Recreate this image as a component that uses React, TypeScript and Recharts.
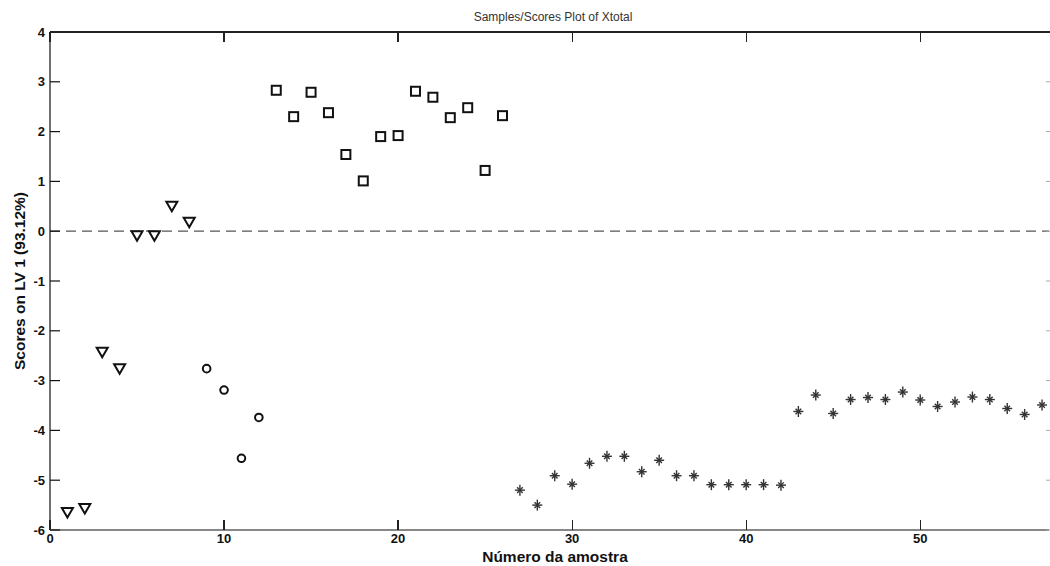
import { ScatterChart, Scatter, XAxis, YAxis, ReferenceLine } from "recharts";

// sample numbers start at 1; each class continues the numbering
const sampleTicks = [0, 10, 20, 30, 40, 50];
const scoreTicks = [-6, -5, -4, -3, -2, -1, 0, 1, 2, 3, 4];

const triangleScores = [-5.65, -5.57, -2.43, -2.76, -0.09, -0.09, 0.5, 0.18];
const circleScores = [-2.76, -3.19, -4.56, -3.74];
const squareScores = [2.83, 2.3, 2.79, 2.38, 1.54, 1.01, 1.9, 1.92, 2.81, 2.69, 2.28, 2.48, 1.22, 2.32];
const starScores = [
  -5.2, -5.5, -4.91, -5.08, -4.66, -4.52, -4.52, -4.83, -4.6, -4.91, -4.91, -5.09, -5.09, -5.09, -5.09, -5.1,
  -3.62, -3.29, -3.66, -3.38, -3.34, -3.38, -3.23, -3.39, -3.52, -3.43, -3.33, -3.38, -3.56, -3.68, -3.49,
];

const toPoints = (scores: number[], first: number) =>
  scores.map((score, i) => ({ sample: first + i, score }));

const triangles = toPoints(triangleScores, 1);
const circles = toPoints(circleScores, 1 + triangleScores.length);
const squares = toPoints(squareScores, 1 + triangleScores.length + circleScores.length);
const stars = toPoints(
  starScores,
  1 + triangleScores.length + circleScores.length + squareScores.length
);

const X_MAX = 57.4;
const Y_MIN = -6;
const Y_MAX = 4;

// frame layout (chart is 1050 x 566)
const W = 1050;
const H = 566;
const LEFT = 50;
const TOP = 32;
const BOTTOM_AXIS = 36;
const RIGHT_AXIS = 1;
const PLOT_W = W - LEFT - RIGHT_AXIS;
const PLOT_BOTTOM = H - BOTTOM_AXIS;
const frameX = (t: number) => LEFT + (t / X_MAX) * PLOT_W;

const FONT = "'Liberation Sans', Arial, sans-serif";
const INK = "#111";

function Triangle(props: any) {
  const { cx, cy } = props;
  return (
    <polygon
      points={`${cx - 5.5},${cy - 4.5} ${cx + 5.5},${cy - 4.5} ${cx},${cy + 5}`}
      fill="none"
      stroke={INK}
      strokeWidth={2}
    />
  );
}

function Circle(props: any) {
  const { cx, cy } = props;
  return <circle cx={cx} cy={cy} r={3.8} fill="none" stroke={INK} strokeWidth={2} />;
}

function Square(props: any) {
  const { cx, cy } = props;
  return <rect x={cx - 4.5} y={cy - 4.5} width={9} height={9} fill="none" stroke={INK} strokeWidth={2} />;
}

function Star(props: any) {
  const { cx, cy } = props;
  return (
    <g stroke="#333" strokeWidth={1.4}>
      <line x1={cx} y1={cy - 5.5} x2={cx} y2={cy + 5.5} />
      <line x1={cx - 5} y1={cy} x2={cx + 5} y2={cy} />
      <line x1={cx - 2.8} y1={cy - 2.8} x2={cx + 2.8} y2={cy + 2.8} />
      <line x1={cx - 2.8} y1={cy + 2.8} x2={cx + 2.8} y2={cy - 2.8} />
    </g>
  );
}

const Nothing = () => <g />;

const tickFont = { fontSize: 13, fontWeight: 700, fill: INK, fontFamily: FONT };

// matlab style: tick marks point into the plot
function LeftTick(props: any) {
  const { x, y, payload } = props;
  return (
    <g>
      <line x1={x + 5} y1={y} x2={x + 15} y2={y} stroke={INK} strokeWidth={1.2} />
      <text x={x} y={y} dy="0.35em" textAnchor="end" {...tickFont}>
        {payload.value}
      </text>
    </g>
  );
}

function BottomTick(props: any) {
  const { x, y, payload } = props;
  return (
    <text x={x} y={y} dy="0.71em" textAnchor="middle" {...tickFont}>
      {payload.value}
    </text>
  );
}

function RightTick(props: any) {
  const { x, y } = props;
  return <line x1={x + 1} y1={y} x2={x - 3} y2={y} stroke="#aaa" />;
}

const frameBit = (left: number, top: number, width: number, height: number) => ({
  position: "absolute" as const,
  left,
  top,
  width,
  height,
  background: "#222",
  pointerEvents: "none" as const,
});

export default function App() {
  return (
    <div style={{ position: "absolute", left: 0, top: 0, width: W, height: H, background: "#fff" }}>
      <ScatterChart width={W} height={H} margin={{ top: TOP, right: 0, bottom: 0, left: 0 }}>
        <XAxis
          xAxisId="bottom"
          type="number"
          dataKey="sample"
          domain={[0, X_MAX]}
          ticks={sampleTicks}
          allowDataOverflow
          height={BOTTOM_AXIS}
          tickSize={0}
          tickMargin={4}
          tickLine={false}
          tick={BottomTick}
          axisLine={{ stroke: INK, strokeWidth: 1.2 }}
        />
        <YAxis
          yAxisId="left"
          type="number"
          dataKey="score"
          domain={[Y_MIN, Y_MAX]}
          ticks={scoreTicks}
          width={LEFT}
          tickSize={0}
          tickMargin={5}
          tickLine={false}
          tick={LeftTick}
          axisLine={{ stroke: INK, strokeWidth: 1.2 }}
        />
        <YAxis
          yAxisId="right"
          orientation="right"
          type="number"
          dataKey="score"
          domain={[Y_MIN, Y_MAX]}
          ticks={scoreTicks}
          width={RIGHT_AXIS}
          tickSize={0}
          tickMargin={0}
          tickLine={false}
          tick={RightTick}
          axisLine={false}
        />
        <ReferenceLine
          xAxisId="bottom"
          yAxisId="left"
          y={0}
          stroke="#555"
          strokeWidth={1.3}
          strokeDasharray="10 6"
        />
        {/* invisible series so the right frame axis gets drawn */}
        <Scatter xAxisId="bottom" yAxisId="right" data={stars} shape={Nothing} isAnimationActive={false} />
        <Scatter xAxisId="bottom" yAxisId="left" data={triangles} shape={Triangle} isAnimationActive={false} />
        <Scatter xAxisId="bottom" yAxisId="left" data={circles} shape={Circle} isAnimationActive={false} />
        <Scatter xAxisId="bottom" yAxisId="left" data={squares} shape={Square} isAnimationActive={false} />
        <Scatter xAxisId="bottom" yAxisId="left" data={stars} shape={Star} isAnimationActive={false} />
        <text x={553} y={21} textAnchor="middle" fontSize={12} fill="#333" fontFamily={FONT}>
          Samples/Scores Plot of Xtotal
        </text>
        <text x={555} y={562} textAnchor="middle" fontSize={15.5} fontWeight={700} fill={INK} fontFamily={FONT}>
          Número da amostra
        </text>
        <text
          x={0}
          y={0}
          transform="translate(25 281) rotate(-90)"
          textAnchor="middle"
          fontSize={15.5}
          fontWeight={700}
          fill={INK}
          fontFamily={FONT}
        >
          Scores on LV 1 (93.12%)
        </text>
      </ScatterChart>
      {/* top frame line and inward tick marks, laid over the svg */}
      <div style={frameBit(LEFT, TOP - 1, PLOT_W + RIGHT_AXIS, 1.5)} />
      {sampleTicks.map((t) => (
        <div key={`top-${t}`} style={frameBit(frameX(t) - 0.6, TOP, 1.2, 10)} />
      ))}
      {sampleTicks.map((t) => (
        <div key={`bottom-${t}`} style={frameBit(frameX(t) - 0.6, PLOT_BOTTOM - 10, 1.2, 10)} />
      ))}
    </div>
  );
}
